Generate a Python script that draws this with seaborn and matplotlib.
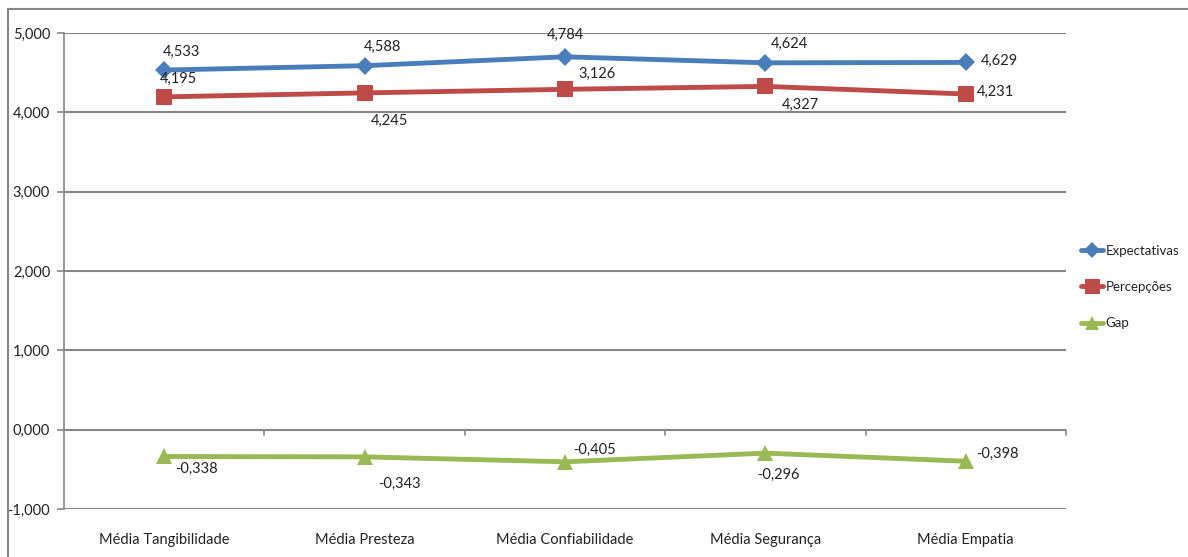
import matplotlib
matplotlib.use("Agg")
import matplotlib.pyplot as plt
import seaborn as sns
import pandas as pd
from matplotlib.patches import Rectangle
from matplotlib.lines import Line2D

# ---- data ----
categories = ["Média Tangibilidade", "Média Presteza", "Média Confiabilidade",
              "Média Segurança", "Média Empatia"]
expectativas = [4.533, 4.588, 4.70, 4.624, 4.629]
percepcoes = [4.195, 4.245, 4.29, 4.327, 4.231]
gap = [-0.338, -0.343, -0.405, -0.296, -0.398]
label_exp = ["4,533", "4,588", "4,784", "4,624", "4,629"]
label_perc = ["4,195", "4,245", "3,126", "4,327", "4,231"]
label_gap = ["-0,338", "-0,343", "-0,405", "-0,296", "-0,398"]
series_names = ["Expectativas", "Percepções", "Gap"]
yticks = [-1, 0, 1, 2, 3, 4, 5]
ytick_labels = ["-1,000", "0,000", "1,000", "2,000", "3,000", "4,000", "5,000"]

sns.set_theme(style="white")
plt.rcParams["font.family"] = ["Lato", "DejaVu Sans"]
FS = 10.5
TXT = "#222222"

df = pd.DataFrame({
    "cat": categories * 3,
    "value": expectativas + percepcoes + gap,
    "serie": [series_names[0]] * 5 + [series_names[1]] * 5 + [series_names[2]] * 5,
})

colors = {"Expectativas": "#4A7EBB", "Percepções": "#BE4B48", "Gap": "#98B954"}
markers = {"Expectativas": "D", "Percepções": "s", "Gap": "^"}
msizes = {"Expectativas": 9, "Percepções": 12, "Gap": 11}

fig = plt.figure(figsize=(11.88, 5.57), dpi=100)
ax = fig.add_axes([64 / 1188, 1 - 509 / 557, (1066 - 64) / 1188, (509 - 33) / 557])

sns.lineplot(data=df, x="cat", y="value", hue="serie", style="serie",
             palette=colors, markers=markers, dashes=False, sort=False,
             linewidth=3.5, markersize=11, markeredgewidth=0, ax=ax, legend=False)
for line, s in zip(ax.get_lines(), series_names):
    line.set_markersize(msizes[s])

ax.set_xlim(-0.5, 4.5)
ax.set_ylim(-1, 5)
ax.set_yticks(yticks)
ax.set_yticklabels(ytick_labels, fontsize=FS)
ax.set_xticks(range(5))
ax.set_xticklabels(categories, fontsize=FS)
ax.set_xlabel("")
ax.set_ylabel("")
ax.grid(axis="y", color="#868686", linewidth=1.5)
ax.set_axisbelow(True)
for sp in ["top", "right", "bottom"]:
    ax.spines[sp].set_visible(False)
ax.spines["left"].set_color("#868686")
ax.spines["left"].set_linewidth(1.2)
ax.tick_params(axis="y", which="major", left=True, length=5, color="#868686",
               width=1.2, pad=5, labelcolor=TXT)
ax.tick_params(axis="x", which="major", bottom=False, pad=11, labelcolor=TXT)

# x-axis tick marks at category boundaries on the zero line
for b in [0.5, 1.5, 2.5, 3.5, 4.5]:
    ax.plot([b, b], [0, -0.07], color="#868686", linewidth=1.2, clip_on=False)

# data labels
off_exp = [(17, 18), (18, 19), (0, 22), (24, 19), (34, 2)]
off_perc = [(14, 18), (25, -28), (32, 15), (35, -18), (30, 2)]
off_gap = [(32, -12), (35, -27), (29, 12), (13, -22), (32, 7)]
for vals, labs, offs in [(expectativas, label_exp, off_exp),
                         (percepcoes, label_perc, off_perc),
                         (gap, label_gap, off_gap)]:
    for i, (v, l, o) in enumerate(zip(vals, labs, offs)):
        ax.annotate(l, (i, v), xytext=o, textcoords="offset pixels",
                    ha="center", va="center", fontsize=FS, color=TXT)

# legend
handles = [Line2D([0], [0], color=colors[s], marker=markers[s], linewidth=3.5,
                  markersize=msizes[s] * 0.9, markeredgewidth=0) for s in series_names]
fig.legend(handles, series_names, loc="center left",
           bbox_to_anchor=(1081 / 1188, 1 - 287 / 557), frameon=False,
           fontsize=9.5, handlelength=1.7, handletextpad=0.15, labelspacing=1.85,
           borderaxespad=0, borderpad=0, labelcolor=TXT)

# chart area border
fig.add_artist(Rectangle((8 / 1188, -0.1), 1.2, 1 - 9 / 557 + 0.1,
                         transform=fig.transFigure, fill=False,
                         edgecolor="#868686", linewidth=1.5))

fig.savefig("out.png", dpi=100)
